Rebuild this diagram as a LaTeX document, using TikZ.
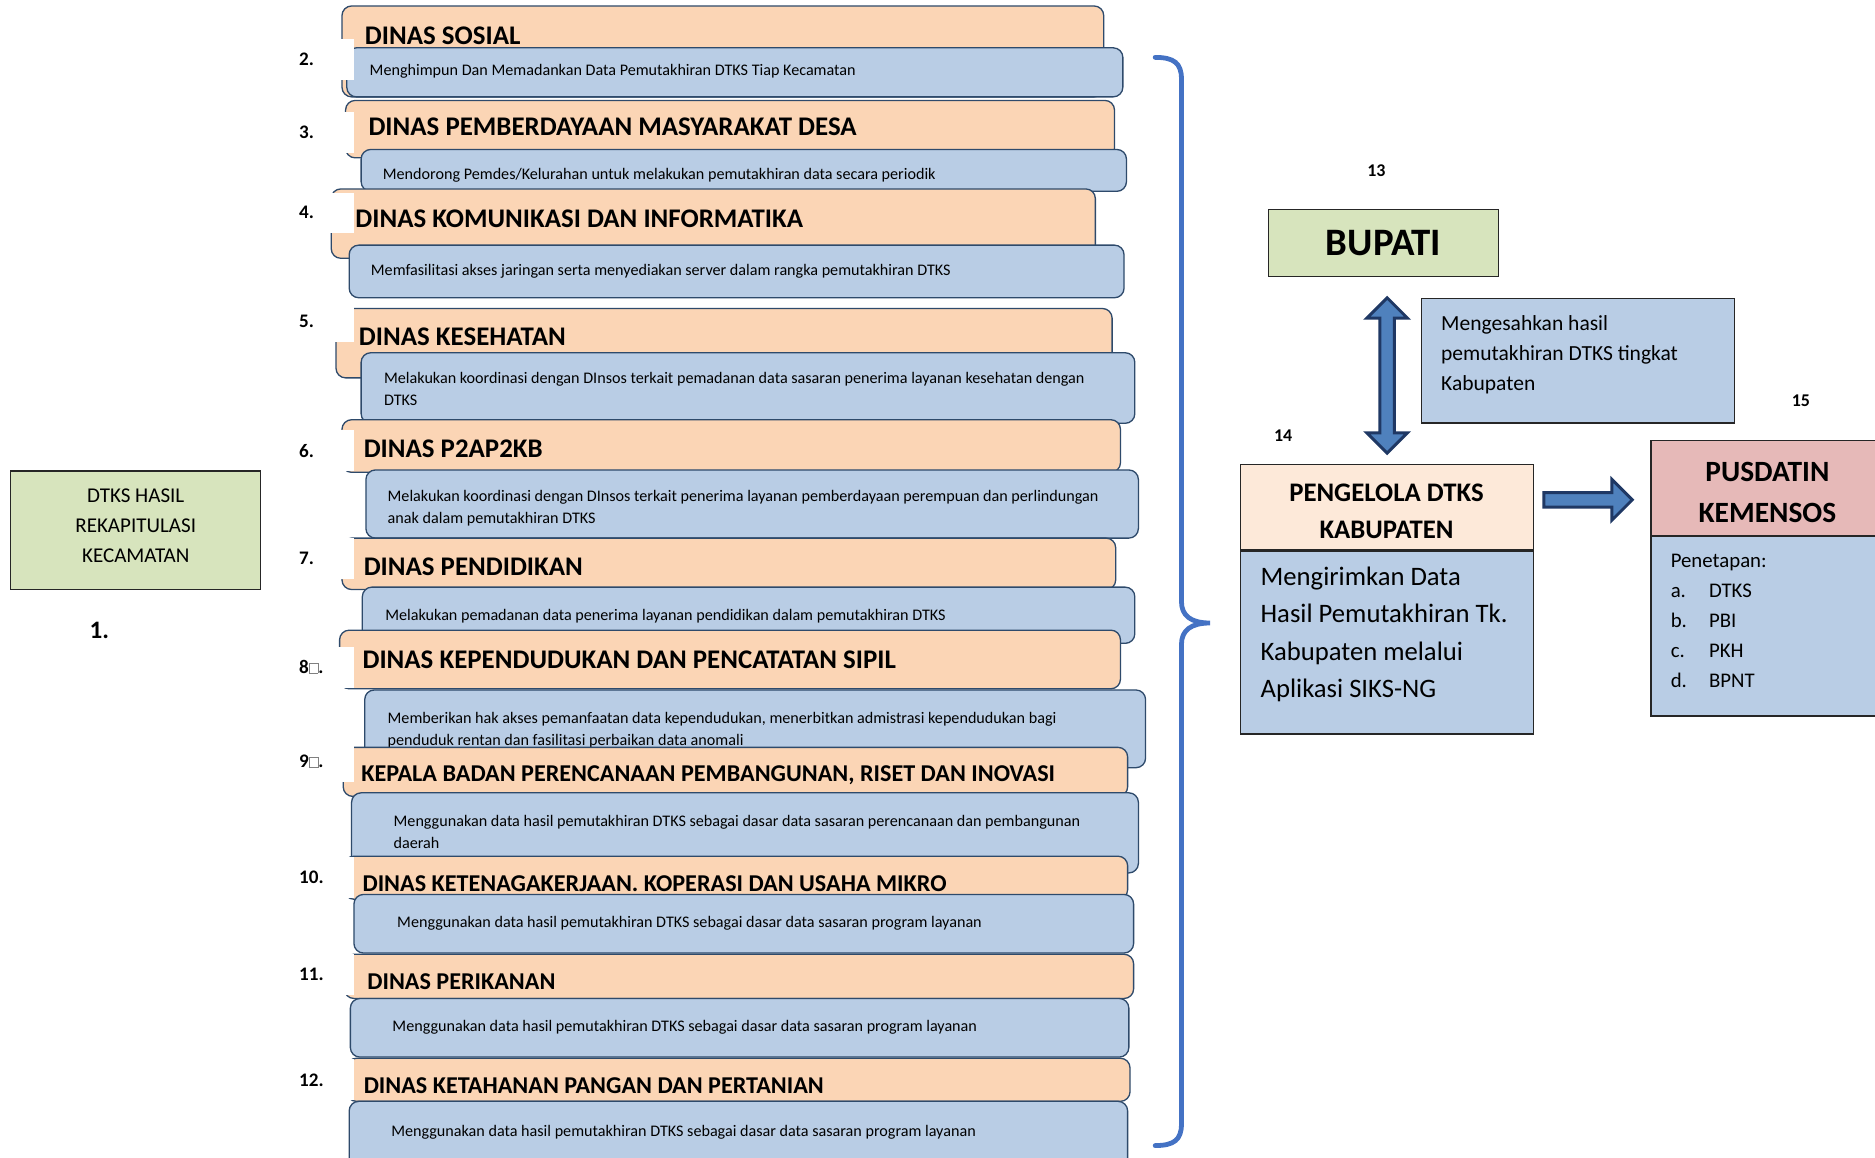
\documentclass[tikz,border=0pt]{standalone}
\usepackage{fontspec}
\setmainfont{Carlito}
\usetikzlibrary{positioning}
\usepackage{xcolor}
\definecolor{Peach}{HTML}{FBD5B5}
\definecolor{SteelBlue}{HTML}{B9CDE5}
\definecolor{Sage}{HTML}{D7E4BD}
\definecolor{Rose}{HTML}{E6B9B8}
\definecolor{Cream}{HTML}{FDE9D9}
\definecolor{Outline}{HTML}{2E4A6B}
\definecolor{Frame}{HTML}{262626}
\definecolor{BraceBlue}{HTML}{4472C4}
\definecolor{ArrowFill}{HTML}{4F81BD}
\definecolor{ArrowLine}{HTML}{1F3864}
\newcommand{\kotakkecil}{\raisebox{0.5pt}{\setlength{\fboxsep}{0pt}\setlength{\fboxrule}{0.5pt}\textcolor{gray}{\fbox{\rule{0pt}{8pt}\hspace{7pt}}}}}

\begin{document}
\begin{tikzpicture}[x=1pt, y=1pt,
  dinas/.style={draw=Outline, fill=Peach, line width=1.1pt, rounded corners=8pt},
  tugas/.style={draw=Outline, fill=SteelBlue, line width=1.1pt, rounded corners=8pt},
  judul/.style={anchor=west, inner sep=0pt, font=\fontsize{22.5}{24}\selectfont\bfseries},
  judulkecil/.style={judul, font=\fontsize{20.2}{22}\selectfont\bfseries},
  isi/.style={anchor=west, inner sep=0pt, align=left, font=\fontsize{13.5}{18.5}\selectfont},
  nomor/.style={anchor=west, inner sep=0pt, font=\fontsize{16}{18}\selectfont\bfseries},
  angka/.style={inner sep=0pt, font=\fontsize{15}{17}\selectfont\bfseries},
  kotak/.style={draw=Frame, line width=1.2pt, inner sep=0pt},
  panah/.style={draw=ArrowLine, fill=ArrowFill, line width=2.5pt, line join=miter},
  kurung/.style={draw=BraceBlue, line width=4pt, line cap=round}
]
\clip (0,0) rectangle (1568,-968);

% daftar dinas: nomor, kotak judul, kotak tugas
\foreach \no/\ny/\oL/\oR/\oT/\oB/\jx/\jy/\gaya/\judul/\bL/\bR/\bT/\bB/\tx/\iy/\teks [count=\k] in {
  2./50/286/923/5/81/305/30/judul/DINAS SOSIAL/290/939/40/81/309/60/Menghimpun Dan Memadankan Data Pemutakhiran DTKS Tiap Kecamatan,
  3./111/289/932/84/132/308/106/judul/DINAS PEMBERDAYAAN MASYARAKAT DESA/302/942/125/160/320/147/{Mendorong Pemdes/Kelurahan untuk melakukan pemutakhiran data secara periodik},
  4./178/277/916/158/216/297/183/judul/DINAS KOMUNIKASI DAN INFORMATIKA/292/940/205/249/310/227/Memfasilitasi akses jaringan serta menyediakan server dalam rangka pemutakhiran DTKS,
  5./269/281/930/258/316/300/282/judul/DINAS KESEHATAN/302/949/295/354/321/325.5/{Melakukan koordinasi dengan DInsos terkait pemadanan data sasaran penerima layanan kesehatan dengan\\DTKS},
  6./377/286/937/351/395/304/375/judul/DINAS P2AP2KB/306/952/393/450/324/425/{Melakukan koordinasi dengan DInsos terkait penerima layanan pemberdayaan perempuan dan perlindungan\\anak dalam pemutakhiran DTKS},
  7./467/286/933/450/493/304/474/judul/DINAS PENDIDIKAN/303/949/491/538/322/515/Melakukan pemadanan data penerima layanan pendidikan dalam pemutakhiran DTKS,
  8\kotakkecil./558/284/937/527/576/303/552/judul/DINAS KEPENDUDUKAN DAN PENCATATAN SIPIL/305/958/577/642/324/610.5/{Memberikan hak akses pemanfaatan data kependudukan, menerbitkan admistrasi kependudukan bagi\\penduduk rentan dan fasilitasi perbaikan data anomali},
  9\kotakkecil./637/287/943/625/666/302/648/judulkecil/{KEPALA BADAN PERENCANAAN PEMBANGUNAN, RISET DAN INOVASI}/294/952/663/730/329/696/{Menggunakan data hasil pemutakhiran DTKS sebagai dasar data sasaran perencanaan dan pembangunan\\daerah},
  10./734/288/943/716/752/303/739/judulkecil/DINAS KETENAGAKERJAAN. KOPERASI DAN USAHA MIKRO/296/948/748/797/332/772/Menggunakan data hasil pemutakhiran DTKS sebagai dasar data sasaran program layanan,
  11./815/288/948/798/835/307/821/judulkecil/DINAS PERIKANAN/293/944/835/884/328/859/Menggunakan data hasil pemutakhiran DTKS sebagai dasar data sasaran program layanan,
  12./903/290/945/885/921/304/908/judulkecil/DINAS KETAHANAN PANGAN DAN PERTANIAN/292/943/921/990/327/947/Menggunakan data hasil pemutakhiran DTKS sebagai dasar data sasaran program layanan}{
  \path[dinas] (\oL,-\oT) rectangle (\oR,-\oB);
  \node[\gaya] (judul\k) at (\jx,-\jy) {\judul};
  \path[tugas] (\bL,-\bT) rectangle (\bR,-\bB);
  \node[isi] (tugas\k) at (\tx,-\iy) {\teks};
  \fill[white] (\oL-4,-\ny+17) rectangle (296,-\ny-17);
  \node[nomor] (nomor\k) at (250,-\ny) {\no};
}

% kurung kurawal
\draw[kurung] (966,-48) .. controls (982,-48) and (988,-53) .. (988,-66) -- (988,-503)
  .. controls (988,-515) and (996,-521) .. (1012,-521)
  .. controls (996,-521) and (988,-527) .. (988,-539) -- (988,-940)
  .. controls (988,-953) and (982,-958) .. (966,-958);

% kiri
\node[kotak, fill=Sage, minimum width=209pt, minimum height=99pt] (dtks) at (113.5,-443.5) {};
\node[align=center, inner sep=0pt, font=\fontsize{17.6}{25}\selectfont] (dtksteks) at (113.5,-439.5) {DTKS HASIL\\REKAPITULASI\\KECAMATAN};
\node[font=\fontsize{21}{23}\selectfont\bfseries, inner sep=0pt] (satu) at (83,-527) {1.};

% kanan
\node[angka] (n13) at (1151,-143) {13};
\node[angka] (n14) at (1073,-364) {14};
\node[angka] (n15) at (1506,-335) {15};

\node[kotak, fill=Sage, minimum width=192pt, minimum height=56pt, font=\fontsize{32.5}{34}\selectfont\bfseries] (bupati) at (1157,-203) {BUPATI};
\node[kotak, fill=SteelBlue, minimum width=262pt, minimum height=104pt, anchor=north west] (sahkan) at (1188,-249) {};
\node[anchor=west, inner sep=0pt, align=left, font=\fontsize{18}{25}\selectfont] (sahkanteks) at (1205,-297) {Mengesahkan hasil\\pemutakhiran DTKS tingkat\\Kabupaten};

\draw[panah, shift={(1160,-314)}] (0,65) -- (17,48) -- (6,48) -- (6,-48) -- (17,-48) -- (0,-65)
  -- (-17,-48) -- (-6,-48) -- (-6,48) -- (-17,48) -- cycle;

\node[kotak, fill=Cream, minimum width=245pt, minimum height=71pt, anchor=north west] (pengelola) at (1037,-388) {};
\node[align=center, inner sep=0pt, font=\fontsize{22.4}{31}\selectfont\bfseries] (pengelolateks) at (1159.5,-427.5) {PENGELOLA DTKS\\KABUPATEN};
\node[kotak, fill=SteelBlue, minimum width=245pt, minimum height=153pt, anchor=north west] (kirim) at (pengelola.south west) {};
\node[anchor=west, inner sep=0pt, align=left, font=\fontsize{22.3}{31}\selectfont] (kirimteks) at (1054,-530.5) {Mengirimkan Data\\Hasil Pemutakhiran Tk.\\Kabupaten melalui\\Aplikasi SIKS-NG};

\draw[panah, shift={(1291,-418)}] (0,6) -- (57,6) -- (57,17) -- (74,0) -- (57,-17) -- (57,-6) -- (0,-6) -- cycle;

\node[kotak, fill=Rose, minimum width=200pt, minimum height=79pt, anchor=north west] (pusdatin) at (1380,-368) {};
\node[align=center, inner sep=0pt, font=\fontsize{24.6}{34}\selectfont\bfseries] (pusdatinteks) at (1478,-412) {PUSDATIN\\KEMENSOS};
\node[kotak, fill=SteelBlue, minimum width=200pt, minimum height=150pt, anchor=north west] (penetapan) at (pusdatin.south west) {};
\node[anchor=west, inner sep=0pt, align=left, font=\fontsize{17.4}{25}\selectfont] (daftar) at (1397,-519) {Penetapan:\\\makebox[32pt][l]{a.}DTKS\\\makebox[32pt][l]{b.}PBI\\\makebox[32pt][l]{c.}PKH\\\makebox[32pt][l]{d.}BPNT};
\end{tikzpicture}
\end{document}
